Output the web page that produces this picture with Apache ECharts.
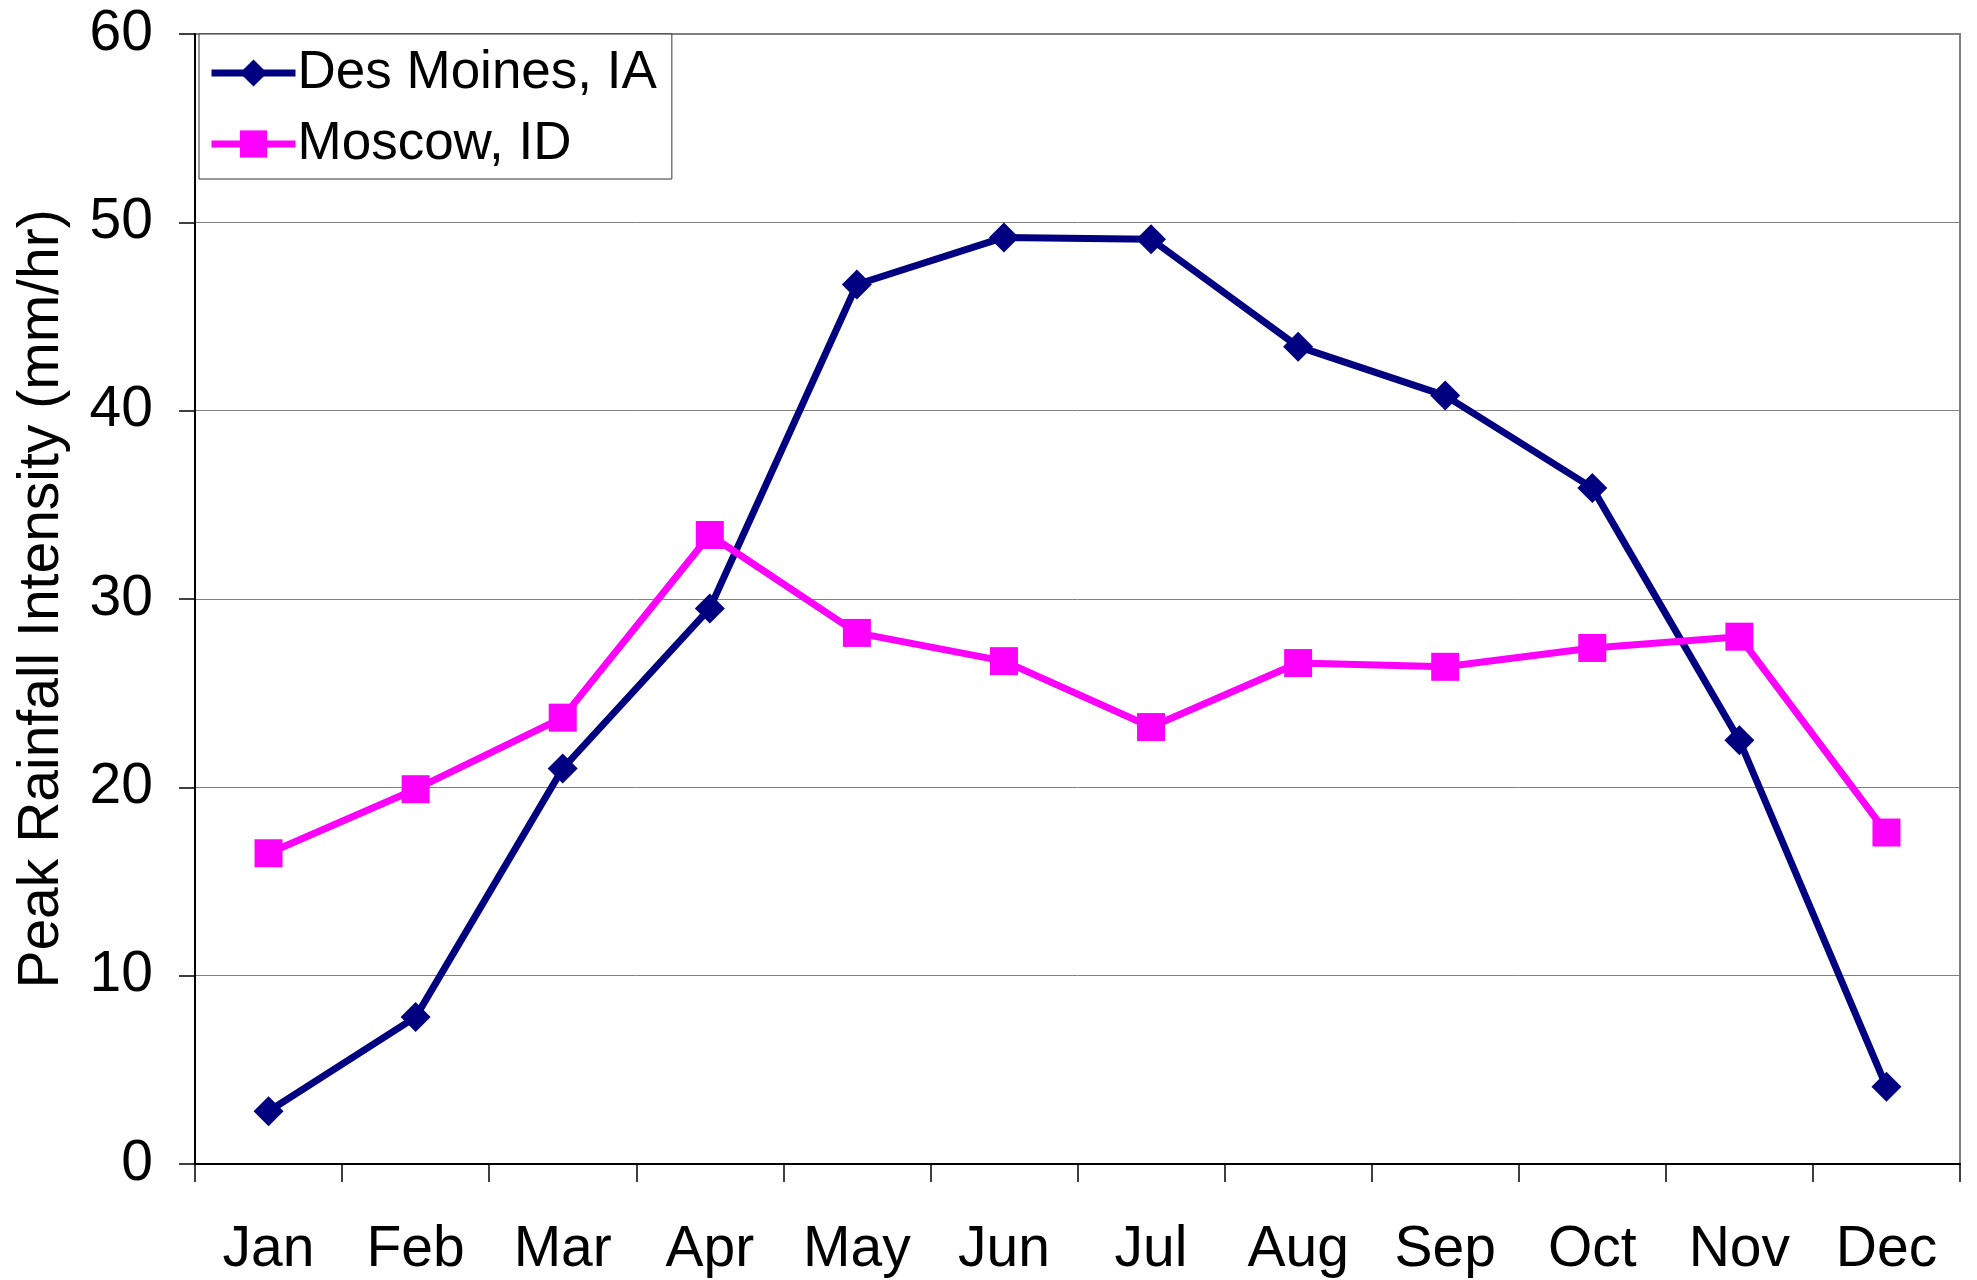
<!DOCTYPE html>
<html>
<head>
<meta charset="utf-8">
<script src="https://cdn.jsdelivr.net/npm/echarts@6/dist/echarts.min.js"></script>
<style>
  html, body { margin: 0; padding: 0; background: #fff; }
  #chart { width: 1977px; height: 1280px; }
</style>
</head>
<body>
<div id="chart"></div>
<script>
const months = ['Jan', 'Feb', 'Mar', 'Apr', 'May', 'Jun', 'Jul', 'Aug', 'Sep', 'Oct', 'Nov', 'Dec']
const desMoines = [2.8, 7.8, 21.0, 29.5, 46.7, 49.2, 49.1, 43.4, 40.8, 35.9, 22.5, 4.1]
const moscow = [16.5, 19.9, 23.7, 33.4, 28.2, 26.7, 23.2, 26.6, 26.4, 27.4, 28.0, 17.6]

const font = 'Liberation Sans, Arial, sans-serif'

const chart = echarts.init(document.getElementById('chart'))
chart.setOption({
  animation: false,
  backgroundColor: '#fff',
  textStyle: { fontFamily: font, color: '#000' },
  grid: {
    left: 195,
    top: 34,
    right: 17,
    bottom: 116,
    containLabel: false,
    outerBoundsMode: 'none',
    show: true,
    borderColor: '#808080',
    borderWidth: 2
  },
  legend: {
    left: 199,
    top: 34,
    orient: 'vertical',
    backgroundColor: '#fff',
    borderColor: '#333',
    borderWidth: 1,
    padding: [10, 15, 6, 9],
    itemWidth: 84,
    itemHeight: 34,
    itemGap: 13,
    lineStyle: { width: 7 },
    textStyle: { fontFamily: font, fontSize: 53, lineHeight: 58, color: '#000', padding: [0, 0, 0, -3] },
    data: ['Des Moines, IA', 'Moscow, ID']
  },
  xAxis: {
    type: 'category',
    data: months,
    boundaryGap: true,
    axisLine: { lineStyle: { color: '#000', width: 2 } },
    axisTick: { show: true, length: 18, lineStyle: { color: '#000', width: 1.5 } },
    axisLabel: { fontFamily: font, fontSize: 57, color: '#000', margin: 58 }
  },
  yAxis: {
    type: 'value',
    min: 0,
    max: 60,
    interval: 10,
    name: 'Peak Rainfall Intensity (mm/hr)',
    nameLocation: 'middle',
    nameGap: 124,
    nameTextStyle: { fontFamily: font, fontSize: 57, color: '#000' },
    axisLine: { show: true, lineStyle: { color: '#000', width: 2 } },
    axisTick: { show: true, length: 16, lineStyle: { color: '#000', width: 1.5 } },
    axisLabel: { fontFamily: font, fontSize: 57, color: '#000', margin: 42 },
    splitLine: { show: true, lineStyle: { color: '#808080', width: 1 } }
  },
  series: [
    {
      name: 'Des Moines, IA',
      type: 'line',
      data: desMoines,
      symbol: 'diamond',
      symbolSize: 30,
      color: '#000080',
      lineStyle: { color: '#000080', width: 7 },
      itemStyle: { color: '#000080' }
    },
    {
      name: 'Moscow, ID',
      type: 'line',
      data: moscow,
      symbol: 'rect',
      symbolSize: 28,
      color: '#ff00ff',
      lineStyle: { color: '#ff00ff', width: 7 },
      itemStyle: { color: '#ff00ff' }
    }
  ]
})
</script>
</body>
</html>
